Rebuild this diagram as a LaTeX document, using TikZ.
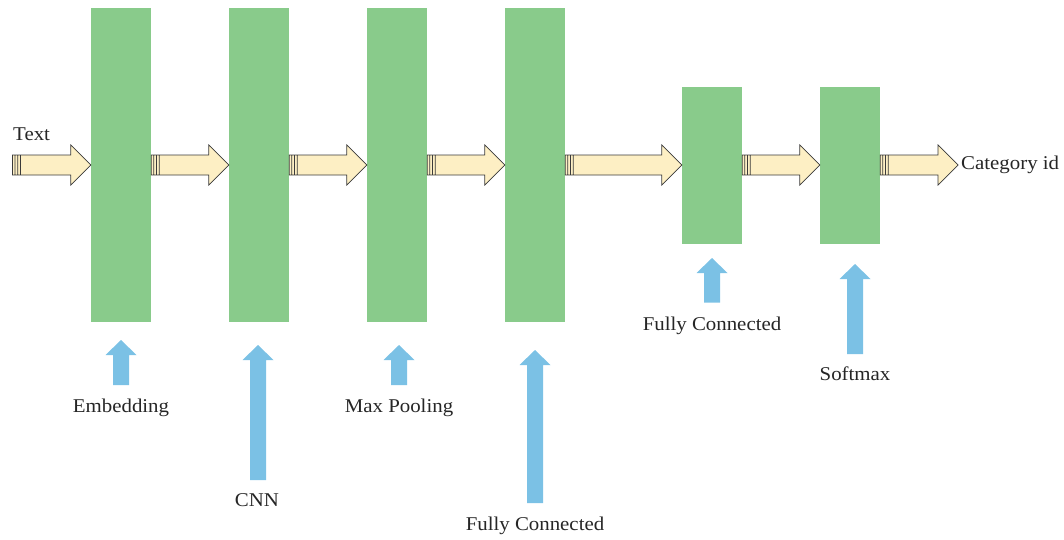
\documentclass[tikz,border=0pt]{standalone}
\usepackage{fontspec}
\setmainfont[FakeStretch=1.07]{Liberation Serif}
\usetikzlibrary{calc}
\definecolor{boxgreen}{HTML}{89CB8B}
\definecolor{arrblue}{HTML}{7BC1E5}
\definecolor{arryellow}{HTML}{FDEFC4}
\definecolor{arrline}{HTML}{3A3A3A}
\definecolor{tailgray}{HTML}{7A7570}
\tikzset{
  layer/.style={fill=boxgreen, draw=none, inner sep=0pt, minimum width=60pt},
  tall/.style={layer, minimum height=314pt},
  short/.style={layer, minimum height=157pt},
  lbl/.style={inner sep=0pt, anchor=base, font=\fontsize{19.5}{22}\selectfont, text=black!85},
  fatline/.style={draw=arrline, line width=0.7pt, line join=miter},
}
\newcommand\fatarr[2]{%
  \path let \p1=(#1), \p2=(#2) in
    [fatline, fill=tailgray] (\x1,\y1+10pt) rectangle (\x1+2.5pt,\y1-10pt)
    [fatline, fill=arryellow] (\x1+2.5pt,\y1+10pt) rectangle (\x1+5.2pt,\y1-10pt)
    [fatline, fill=arryellow] (\x1+5.2pt,\y1+10pt) rectangle (\x1+8pt,\y1-10pt)
    [fatline, fill=arryellow] (\x1+8pt,\y1+10pt) -- (\x2-20pt,\y1+10pt) -- (\x2-20pt,\y1+20pt)
      -- (\x2,\y1) -- (\x2-20pt,\y1-20pt) -- (\x2-20pt,\y1-10pt) -- (\x1+8pt,\y1-10pt) -- cycle;}
\newcommand\upArr[2]{%
  \path let \p1=(#1), \p2=(#2) in
    [fill=arrblue] (\x1-8pt,\y1) -- (\x1-8pt,\y2-15pt) -- (\x1-15.5pt,\y2-15pt) -- (\x1,\y2)
      -- (\x1+15.5pt,\y2-15pt) -- (\x1+8pt,\y2-15pt) -- (\x1+8pt,\y1) -- cycle;}
\begin{document}
\begin{tikzpicture}[x=1pt, y=-1pt]
\useasboundingbox (0,0) rectangle (1064,539);
% layers
\node[tall]  (b1) at (121,165) {};
\node[tall]  (b2) at (259,165) {};
\node[tall]  (b3) at (397,165) {};
\node[tall]  (b4) at (535,165) {};
\node[short] (b5) at (712,165) {};
\node[short] (b6) at (850,165) {};
% input / output
\coordinate (in) at (12.5,165);
\coordinate (out) at (958,165);
\node[lbl, anchor=base west] (txt) at (13,140.7) {Text};
\node[lbl, anchor=base west] (cat) at (961,169) {Category id};
% flow arrows
\fatarr{in}{b1.west}
\fatarr{b1.east}{b2.west}
\fatarr{b2.east}{b3.west}
\fatarr{b3.east}{b4.west}
\fatarr{b4.east}{b5.west}
\fatarr{b5.east}{b6.west}
\fatarr{b6.east}{out}
% layer annotations
\coordinate (t1) at (121,340); \coordinate (s1) at (121,385);
\coordinate (t2) at (258,345); \coordinate (s2) at (258,480);
\coordinate (t3) at (399,345); \coordinate (s3) at (399,385);
\coordinate (t4) at (535,350); \coordinate (s4) at (535,503);
\coordinate (t5) at (712,258); \coordinate (s5) at (712,302.5);
\coordinate (t6) at (855,264); \coordinate (s6) at (855,354);
\upArr{s1}{t1}
\upArr{s2}{t2}
\upArr{s3}{t3}
\upArr{s4}{t4}
\upArr{s5}{t5}
\upArr{s6}{t6}
\node[lbl] (l1) at (121,412) {Embedding};
\node[lbl] (l2) at (257,506.7) {CNN};
\node[lbl] (l3) at (399,412.7) {Max Pooling};
\node[lbl] (l4) at (535,530.7) {Fully Connected};
\node[lbl] (l5) at (712,330) {Fully Connected};
\node[lbl] (l6) at (855,380.7) {Softmax};
\end{tikzpicture}
\end{document}
